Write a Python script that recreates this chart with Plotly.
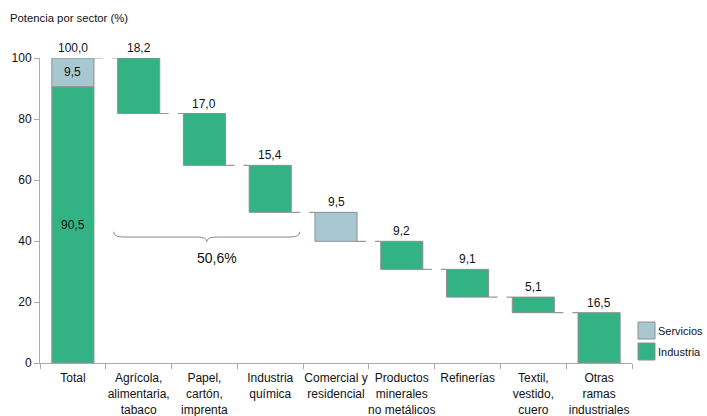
import plotly.graph_objects as go

# --- data -------------------------------------------------------------
categories = ["Total", "Agrícola,<br>alimentaria,<br>tabaco", "Papel,<br>cartón,<br>imprenta",
              "Industria<br>química", "Comercial y<br>residencial",
              "Productos<br>minerales<br>no metálicos", "Refinerías",
              "Textil,<br>vestido,<br>cuero", "Otras<br>ramas<br>industriales"]
values = [100.0, 18.2, 17.0, 15.4, 9.5, 9.2, 9.1, 5.1, 16.5]
sectors = ["Total", "Industria", "Industria", "Industria", "Servicios",
           "Industria", "Industria", "Industria", "Industria"]
total_industria = 90.5
total_servicios = 9.5
brace_group = [1, 2, 3]
legend_items = ["Servicios", "Industria"]

GREEN = "#33b384"
BLUE = "#a8c8d1"
EDGE = "#8f8f8f"
FONT = "Liberation Sans, Arial, sans-serif"
COLORS = {"Servicios": BLUE, "Industria": GREEN}

def fmt(v):
    return f"{v:.1f}".replace(".", ",")

# waterfall bases / tops
bases, tops = [], []
level = values[0]
for i, v in enumerate(values):
    if i == 0:
        bases.append(0.0)
        tops.append(v)
    else:
        bases.append(level - v)
        tops.append(level)
        level = level - v

W = 0.64
fig = go.Figure()

# Servicios
sx = [0] + [i for i, s in enumerate(sectors) if s == "Servicios"]
sy = [total_servicios] + [values[i] for i in sx[1:]]
sb = [total_industria] + [bases[i] for i in sx[1:]]
fig.add_trace(go.Bar(x=sx, y=sy, base=sb, width=W, name="Servicios",
                     marker=dict(color=BLUE, line=dict(color=EDGE, width=1))))
# Industria
ix = [0] + [i for i, s in enumerate(sectors) if s == "Industria"]
iy = [total_industria] + [values[i] for i in ix[1:]]
ib = [0.0] + [bases[i] for i in ix[1:]]
fig.add_trace(go.Bar(x=ix, y=iy, base=ib, width=W, name="Industria",
                     marker=dict(color=GREEN, line=dict(color=EDGE, width=1))))

# connectors between consecutive bars
for i in range(len(values) - 1):
    lvl = bases[i + 1] + values[i + 1]
    fig.add_shape(type="line", x0=i + W / 2, x1=i + 1 - W / 2, y0=lvl, y1=lvl,
                  xref="x", yref="y", line=dict(color="#999999", width=1.2, dash="dash"))

# value labels above bars
annotations = []
for i, v in enumerate(values):
    annotations.append(dict(x=i, y=tops[i], text=fmt(v), showarrow=False,
                            yanchor="bottom", yshift=1, font=dict(size=12, color="#111111")))
# labels inside the total bar
annotations.append(dict(x=0, y=total_industria + total_servicios / 2, text=fmt(total_servicios),
                        showarrow=False, font=dict(size=12, color="#111111")))
annotations.append(dict(x=0, y=total_industria / 2, text=fmt(total_industria),
                        showarrow=False, font=dict(size=12, color="#111111")))

# brace over the industrial group
gx0 = brace_group[0] - 0.38
gx1 = brace_group[-1] + 0.45
gm = (gx0 + gx1) / 2
yt, ym, yp = 43.0, 41.3, 39.8
path = (f"M {gx0},{yt} Q {gx0},{ym} {gx0 + 0.15},{ym} L {gm - 0.15},{ym} "
        f"Q {gm},{ym} {gm},{yp} Q {gm},{ym} {gm + 0.15},{ym} "
        f"L {gx1 - 0.15},{ym} Q {gx1},{ym} {gx1},{yt}")
fig.add_shape(type="path", path=path, xref="x", yref="y",
              line=dict(color="#888888", width=1))
group_sum = sum(values[i] for i in brace_group)
annotations.append(dict(x=gm + 0.15, y=34.5, text=fmt(group_sum) + "%", showarrow=False,
                        font=dict(size=14, color="#111111")))

# legend drawn in the right margin (paper coordinates)
PLOT_L, PLOT_R, PLOT_T, PLOT_B = 40, 632, 58, 363
def px(xp):
    return (xp - PLOT_L) / (PLOT_R - PLOT_L)
def py(yp):
    return (PLOT_B - yp) / (PLOT_B - PLOT_T)
for k, name in enumerate(legend_items):
    top = 322 + 21 * k
    fig.add_shape(type="rect", xref="paper", yref="paper",
                  x0=px(638), x1=px(655), y0=py(top + 17), y1=py(top),
                  fillcolor=COLORS[name], line=dict(color=EDGE, width=1))
    annotations.append(dict(xref="paper", yref="paper", x=px(658), y=py(top + 8.5),
                            text=name, showarrow=False, xanchor="left", yanchor="middle",
                            xshift=-2, font=dict(size=11, color="#111111")))

fig.update_layout(
    width=707, height=416,
    margin=dict(l=PLOT_L, r=707 - PLOT_R, t=PLOT_T, b=416 - PLOT_B),
    paper_bgcolor="white", plot_bgcolor="white",
    barmode="overlay",
    font=dict(family=FONT, size=12, color="#111111"),
    title=dict(text="Potencia por sector (%)", x=10 / 707, xref="container", xanchor="left",
               y=1 - 18 / 416, yanchor="middle", font=dict(size=11.3, color="#111111")),
    showlegend=False,
    annotations=annotations,
)

fig.update_xaxes(
    type="linear", range=[-0.5, len(values) - 0.5],
    tickvals=list(range(len(values))), ticktext=categories, tickangle=0,
    ticks="", showgrid=False, zeroline=False,
    showline=True, linecolor="#aaaaaa", linewidth=1,
    tickfont=dict(size=12, color="#111111"), automargin=False,
    ticklabelstandoff=4,
    minor=dict(tickvals=[i - 0.5 for i in range(len(values) + 1)], ticks="outside",
               ticklen=5, tickcolor="#aaaaaa", showgrid=False),
)
fig.update_yaxes(
    range=[0, 100], tickvals=[0, 20, 40, 60, 80, 100],
    ticks="outside", ticklen=5, tickcolor="#aaaaaa",
    showgrid=False, zeroline=False,
    showline=True, linecolor="#aaaaaa", linewidth=1,
    tickfont=dict(size=12, color="#111111"), automargin=False,
)

fig.write_html("out.html")
